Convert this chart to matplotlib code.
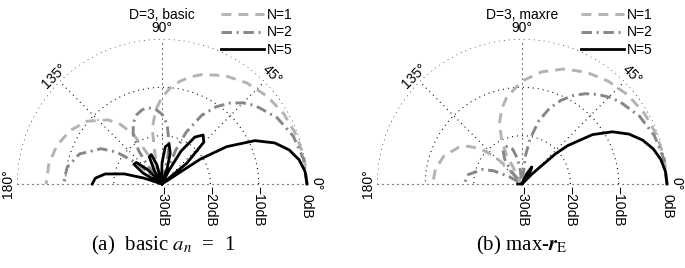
import numpy as np
import matplotlib
matplotlib.use("Agg")
import matplotlib.pyplot as plt

# angles in degrees, levels in dB (floor of the plot is -30 dB)
ang_b1 = [0, 10, 20, 30, 40, 50, 60, 70, 75, 80, 85, 90, 95, 100, 105, 107, 110, 112, 115, 120, 125, 130, 140, 150, 160, 170, 180]
db_b1 = [0, -0.1, -0.4, -0.92, -1.68, -2.71, -4.08, -5.91, -7.05, -8.4, -10.02, -12.04, -14.67, -18.43, -25.05, -30, -43.7, -30, -23.48, -18.06, -14.89, -12.69, -9.78, -7.97, -6.84, -6.22, -6.02]

ang_b2 = [0, 10, 20, 30, 40, 45, 50, 55, 60, 65, 68, 70.8, 73.2, 75.5, 78, 80, 85, 90, 95, 100, 105, 110, 115, 120, 125, 128, 130.6, 133.6, 136.8, 140, 145, 150, 160, 170, 180]
db_b2 = [0, -0.27, -1.09, -2.53, -4.77, -6.27, -8.14, -10.5, -13.62, -18.2, -22.48, -30, -50, -30, -24.25, -21.55, -17.64, -15.56, -14.45, -14.0, -14.11, -14.74, -15.99, -18.06, -21.55, -25.04, -30, -50, -30, -23.48, -18.45, -15.41, -11.83, -10.08, -9.54]

ang_b5 = [0, 5, 10, 15, 20, 25, 30, 33, 35.3, 36.7, 37.9, 40, 45, 50, 55, 60, 63, 64.3, 67, 70.4, 72, 75, 80, 85, 90, 92, 93, 97.2, 101.5, 105,
          110, 115, 120, 122, 122.5, 127.2, 131.9, 135, 140, 145, 150, 153, 153.3, 156.9, 160.2, 162, 165, 170, 175, 180]
db_b5 = [0, -0.29, -1.19, -2.76, -5.17, -8.77, -14.54, -20.53, -30, -50, -30, -23.29, -17.77, -16.77, -18.15, -22.18, -27.03, -30, -50, -30,
         -26.5, -23.43, -21.59, -22.28, -25.67, -28.28, -30, -50, -30, -25.83, -23.52, -23.79, -26.76, -29.2, -30, -50, -30, -25.82, -23.08, -22.91,
         -25.46, -29.4, -30, -50, -30, -26.04, -21.93, -18.06, -16.15, -15.56]

ang_m1 = [0, 10, 20, 30, 40, 50, 60, 70, 80, 90, 100, 105, 110, 115, 118, 122, 125.5, 129, 132, 135, 140, 145, 150, 160, 170, 180]
db_m1 = [0, -0.08, -0.34, -0.77, -1.39, -2.23, -3.3, -4.68, -6.43, -8.7, -11.8, -13.84, -16.44, -20.03, -23.1, -30, -50, -30, -24.97, -21.89, -18.58, -16.4, -14.85, -12.86, -11.83, -11.51]

ang_m2 = [0, 10, 20, 30, 40, 45, 50, 55, 60, 65, 70, 75, 80, 83, 85.9, 90, 94.1, 97, 100, 105, 110, 115, 120, 125, 130, 134.6, 140.8, 148, 150, 155, 160, 170, 180]
db_m2 = [0, -0.21, -0.84, -1.93, -3.54, -4.57, -5.78, -7.2, -8.88, -10.88, -13.32, -16.4, -20.58, -24.11, -30, -50, -30, -27.09, -24.7, -22.53, -21.62, -21.57, -22.25, -23.76, -26.42, -30, -50, -30, -27.1, -23.52, -21.23, -18.72, -17.98]

ang_m5 = [0, 5, 10, 15, 20, 25, 30, 35, 40, 42, 45, 46.1, 48, 53.1, 55, 60, 65, 67.8, 70, 90, 120, 150, 173, 175, 180]
db_m5 = [0, -0.21, -0.83, -1.89, -3.45, -5.57, -8.4, -12.19, -17.63, -20.62, -27.03, -30, -40, -30, -27.29, -25.94, -27.62, -30, -32.4, -32.9, -41, -35, -30, -29.8, -29.1]

labels = ["N=1", "N=2", "N=5"]
titles = ["D=3, basic", "D=3, maxre"]
captions = ["(a)\u2002basic $a_n$\u2002=\u20021", r"(b) max-$\mathbfit{r}_\mathrm{E}$"]
db_ticks = ["\u221230dB", "\u221220dB", "\u221210dB", "0dB"]
ang_ticks = [0, 45, 90, 135, 180]

plt.rcParams['font.family'] = ['Liberation Sans', 'DejaVu Sans']
plt.rcParams['mathtext.fontset'] = 'stix'

W, H = 685, 268
fig = plt.figure(figsize=(W / 100, H / 100), dpi=100)

styles = [dict(color='#b3b3b3', lw=2.1, dashes=(3.4, 2.4)),
          dict(color='#878787', lw=2.1, dashes=(3.6, 1.6, 0.7, 1.6)),
          dict(color='black', lw=2.0, linestyle='-')]
dot = (0, (0.9, 3.6))


def to_r(db):
    # dB -> radius, everything below -30 dB sits in the centre
    return np.clip(np.array(db) + 30, 0, None)


def place(ax, cx, cy, R):
    # move/scale the axes so the pole lands on (cx, cy) px and 0 dB is R px away
    for _ in range(3):
        fig.canvas.draw()
        x0, y0 = ax.transData.transform((0, 0))
        x1, _ = ax.transData.transform((0, 30))
        k = R / (x1 - x0)
        b = ax.get_position()
        bx, by, bw, bh = b.x0 * W, b.y0 * H, b.width * W, b.height * H
        fx, fy = (x0 - bx) / bw, (y0 - by) / bh
        bw, bh = bw * k, bh * k
        ax.set_position([(cx - fx * bw) / W, (H - cy - fy * bh) / H, bw / W, bh / H])


def half_polar(cx, cy, R, series, title):
    ax = fig.add_axes([(cx - R) / W, (H - cy) / H, 2 * R / W, R / H], projection='polar')
    ax.set_thetamin(0)
    ax.set_thetamax(180)
    ax.set_rlim(0, 30)
    ax.set_rticks([10, 20, 30])
    ax.set_yticklabels([])
    ax.set_thetagrids(ang_ticks, labels=[''] * len(ang_ticks))
    ax.grid(True, color='black', linestyle=dot, linewidth=0.8)
    ax.tick_params(length=0)
    # polar draw() switches start/end spines back on, so make them invisible instead
    for s in ax.spines.values():
        s.set_linewidth(0)
        s.set_edgecolor('none')
    place(ax, cx, cy, R)

    # dotted baseline (the 0/180 grid lines are not drawn at the wedge edges)
    ax.plot([np.pi, np.pi, 0, 0], [30, 0, 0, 30], color='black', linestyle=dot,
            linewidth=0.8, clip_on=False)

    for (a, d), lab, st in zip(series, labels, styles):
        ax.plot(np.deg2rad(a), to_r(d), label=lab, clip_on=False, **st)

    # angle labels
    for a, rr, rot in [(0, 31.9, -90), (45, 32.1, -45), (90, 32.3, 0), (135, 31.6, 45), (180, 31.9, 90)]:
        ax.text(np.deg2rad(a), rr, f"{a}\u00b0", rotation=rot, ha='center', va='center', fontsize=10)
    # dB labels under the baseline
    for rr, t in zip([0, 10, 20, 30], db_ticks):
        ax.annotate(t, xy=(0, rr), xytext=(0, -15.8), textcoords='offset points',
                    rotation=-90, ha='center', va='center', fontsize=10)
    ax.text(np.pi / 2, 35.0, title, ha='center', va='center', fontsize=10)

    ax.legend(loc='upper left', bbox_to_anchor=((cx + 59) / W, 1 - 8 / H),
              bbox_transform=fig.transFigure, frameon=False, fontsize=10,
              handlelength=3.1, handletextpad=0.2, labelspacing=0.25,
              borderpad=0, borderaxespad=0)
    return ax


half_polar(162, 184, 145, [(ang_b1, db_b1), (ang_b2, db_b2), (ang_b5, db_b5)], titles[0])
half_polar(522, 184, 145, [(ang_m1, db_m1), (ang_m2, db_m2), (ang_m5, db_m5)], titles[1])

for cx, cap in zip([163, 522], captions):
    fig.text(cx / W, 1 - 245 / H, cap, ha='center', va='center', fontsize=15,
             family=['Liberation Serif', 'DejaVu Serif'])

fig.savefig("out.png", dpi=100)
